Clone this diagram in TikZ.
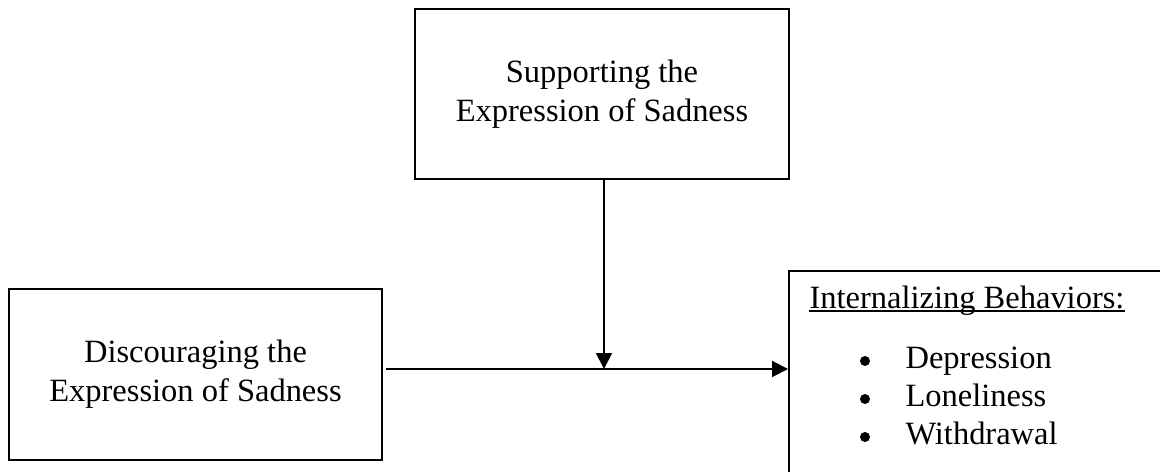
\documentclass[tikz,border=0pt]{standalone}
\usepackage{fontspec}
\setmainfont{Liberation Serif}
\usetikzlibrary{arrows.meta}
\tikzset{
  box/.style={draw=black, line width=0.7pt, inner sep=0pt, align=center, font=\fontsize{11.6}{14}\selectfont},
  arr/.style={line width=0.7pt, -{Triangle[length=5.7pt,width=5.7pt]}},
  txt/.style={inner sep=0pt, font=\fontsize{11.6}{14}\selectfont},
  dot/.style={circle, fill=black, inner sep=0pt, minimum size=10*0.357pt}
}
\begin{document}
\begin{tikzpicture}[x=0.357pt, y=-0.357pt]
\useasboundingbox (0,0) rectangle (1160,472);
\node[box, minimum width=374*0.357pt, minimum height=170*0.357pt] (top) at (602,94) {Supporting the\\Expression of Sadness};
\node[box, minimum width=373*0.357pt, minimum height=171*0.357pt] (left) at (195.5,374.5) {Discouraging the\\Expression of Sadness};
\node[box, minimum width=373*0.357pt, minimum height=203*0.357pt] (right) at (975.5,372.5) {};
\node[txt, anchor=base west] (hdr) at (809,309) {Internalizing Behaviors:};
\draw[line width=0.6pt] ([yshift=-0.75pt]hdr.base west) -- ([yshift=-0.75pt]hdr.base east);
\node[dot] (b1) at (865,361) {};
\node[dot] (b2) at (865,399) {};
\node[dot] (b3) at (865,437) {};
\node[txt, anchor=base west] (i1) at (905,369) {Depression};
\node[txt, anchor=base west] (i2) at (905,407) {Loneliness};
\node[txt, anchor=base west] (i3) at (905,445) {Withdrawal};
\coordinate (start) at (386,369);
\coordinate (m) at (604,369);
\draw[arr] (start) -- (right.west |- start);
\draw[arr] (top.south -| m) -- (m);
\end{tikzpicture}
\end{document}
